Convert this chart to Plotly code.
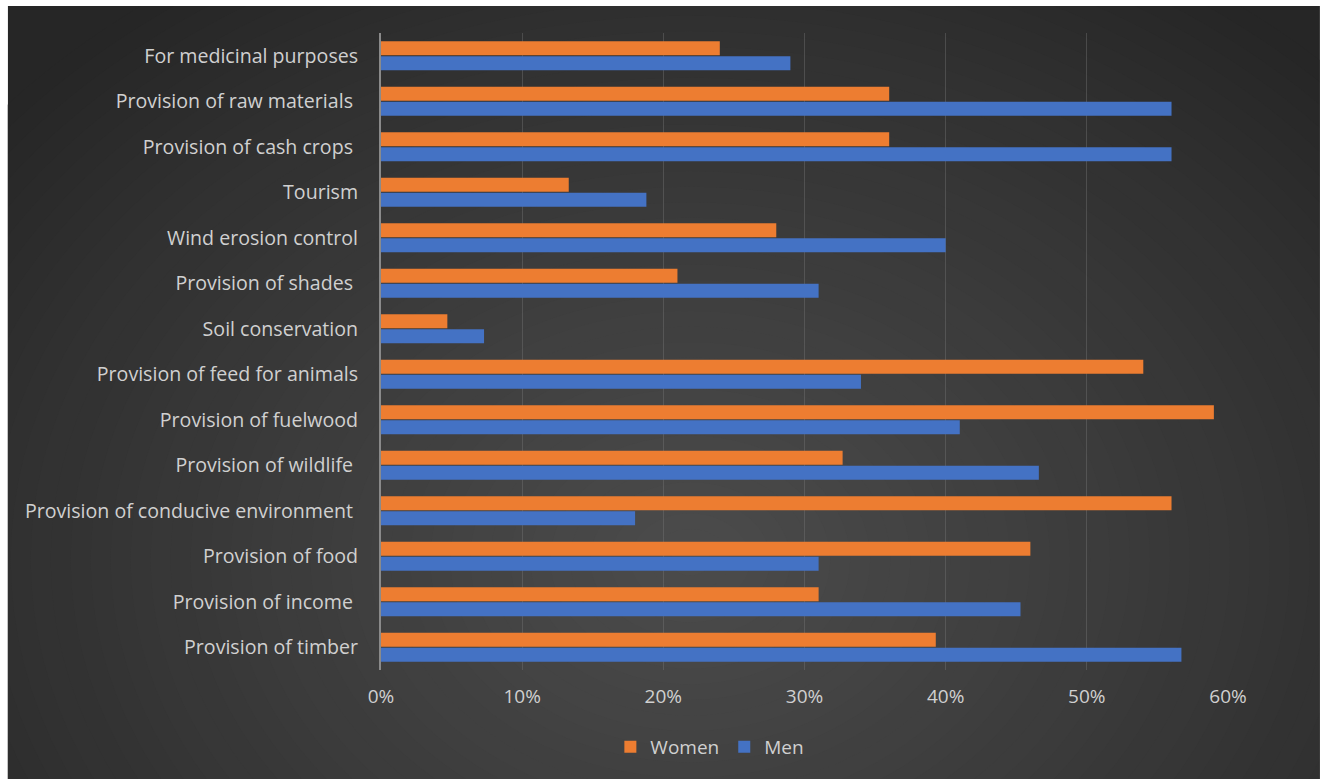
import plotly.graph_objects as go

categories = [
    "Provision of timber",
    "Provision of income\u00a0",
    "Provision of food",
    "Provision of conducive environment\u00a0",
    "Provision of wildlife\u00a0",
    "Provision of fuelwood",
    "Provision of feed for animals",
    "Soil conservation",
    "Provision of shades\u00a0",
    "Wind erosion control",
    "Tourism",
    "Provision of cash crops\u00a0",
    "Provision of raw materials\u00a0",
    "For medicinal purposes",
]
women = [0.393, 0.31, 0.46, 0.56, 0.327, 0.59, 0.54, 0.047, 0.21, 0.28, 0.133, 0.36, 0.36, 0.24]
men = [0.567, 0.453, 0.31, 0.18, 0.466, 0.41, 0.34, 0.073, 0.31, 0.40, 0.188, 0.56, 0.56, 0.29]
x_ticks = [0, 0.1, 0.2, 0.3, 0.4, 0.5, 0.6]
x_ticklabels = ["0%", "10%", "20%", "30%", "40%", "50%", "60%"]

W, H = 1325, 783
L, R, T, B = 380.5, 1228, 33, 670
pw, ph = R - L, B - T


def px2x(px):
    return (px - L) / pw


def px2y(py):
    return (B - py) / ph


fig = go.Figure()
fig.add_trace(go.Bar(y=categories, x=men, name="Men", orientation="h",
                     marker=dict(color="#4472C4", line=dict(width=0)), legendrank=2))
fig.add_trace(go.Bar(y=categories, x=women, name="Women", orientation="h",
                     marker=dict(color="#ED7D31", line=dict(width=0)), legendrank=1))

# background radial gradient
shapes = []
x0p, y0p, x1p, y1p = 7, 6, 1320, 779
shapes.append(dict(type="rect", xref="paper", yref="paper", layer="below",
                   x0=px2x(x0p), x1=px2x(x1p), y0=px2y(y1p), y1=px2y(y0p),
                   fillcolor="#262626", line=dict(width=0)))
cx, cy = 690, 560
RX, RY = 900, 700
N = 45
dark = (0x26, 0x26, 0x26)
light = (0x4c, 0x4c, 0x4c)
for i in range(N):
    f = 1 - i / N
    t = (1 - f) ** 0.9
    c = tuple(int(round(dark[k] + (light[k] - dark[k]) * t)) for k in range(3))
    rx, ry = RX * f, RY * f
    shapes.append(dict(type="circle", xref="paper", yref="paper", layer="below",
                       x0=px2x(cx - rx), x1=px2x(cx + rx),
                       y0=px2y(cy + ry), y1=px2y(cy - ry),
                       fillcolor="rgb(%d,%d,%d)" % c, line=dict(width=0)))
# white border
for (a, b, c2, d) in [(-50, -50, W + 50, y0p), (-50, y1p, W + 50, H + 50),
                      (-50, -50, x0p, H + 50), (x1p, -50, W + 50, H + 50)]:
    shapes.append(dict(type="rect", xref="paper", yref="paper", layer="below",
                       x0=px2x(a), x1=px2x(c2), y0=px2y(d), y1=px2y(b),
                       fillcolor="white", line=dict(width=0)))

font_fam = "'Open Sans', Lato, sans-serif"
txt = "#d0d0d0"
fig.update_layout(
    width=W, height=H,
    margin=dict(l=L, r=W - R, t=T, b=H - B, pad=0),
    paper_bgcolor="white",
    plot_bgcolor="rgba(0,0,0,0)",
    barmode="group",
    bargap=0.34,
    bargroupgap=0.06,
    shapes=shapes,
    font=dict(family=font_fam, size=18, color=txt),
    xaxis=dict(range=[0, 0.6], tickvals=x_ticks, ticktext=x_ticklabels,
               showgrid=True, gridcolor="rgba(120,120,120,0.4)", gridwidth=1,
               zeroline=False, showline=False, ticklabelstandoff=13,
               tickfont=dict(size=19, color=txt), fixedrange=True),
    yaxis=dict(type="category", categoryorder="array", categoryarray=categories,
               showline=True, linecolor="#8a8a8a", linewidth=2,
               showgrid=False, zeroline=False, ticklabelstandoff=17,
               tickfont=dict(size=19.6, color=txt), fixedrange=True),
    legend=dict(orientation="h", x=px2x(610), y=px2y(747), xanchor="left", yanchor="middle",
                font=dict(size=19, color=txt), bgcolor="rgba(0,0,0,0)",
                itemwidth=30, traceorder="normal"),
    showlegend=True,
)

fig.write_html("out.html")
